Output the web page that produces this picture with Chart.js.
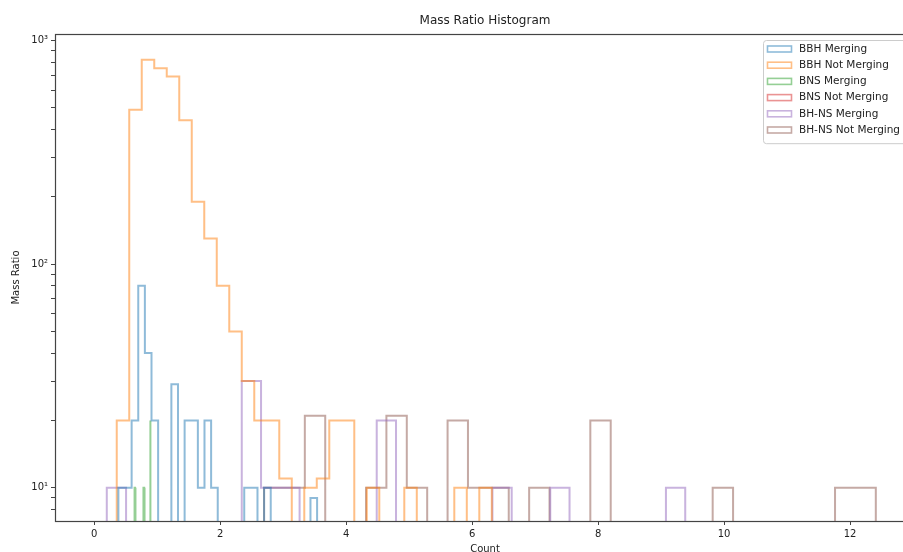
<!DOCTYPE html>
<html>
<head>
<meta charset="utf-8">
<title>Mass Ratio Histogram</title>
<script src="https://cdn.jsdelivr.net/npm/chart.js@4.4.1/dist/chart.umd.min.js"></script>
<style>
  html, body { margin: 0; padding: 0; background: #fff; overflow: hidden; }
  canvas { display: block; }
</style>
</head>
<body>
<canvas id="massRatioChart" width="960" height="552"></canvas>
<script>
// series names, in drawing order
const seriesNames = ['BBH Merging', 'BBH Not Merging', 'BNS Merging', 'BNS Not Merging', 'BH-NS Merging', 'BH-NS Not Merging'];

// each series: [first edge, last edge] of its 30 bins, and the bin counts
const bbhMergingRange = [0.386, 3.54];
const bbhMergingCounts = [10, 10, 20, 80, 40, 20, 0, 0, 29, 0, 20, 20, 10, 20, 10, 0, 0, 0, 0, 10, 10, 0, 10, 0, 0, 0, 0, 0, 0, 9];

const bbhNotMergingRange = [0.36, 6.313];
const bbhNotMergingCounts = [20, 490, 820, 750, 690, 440, 190, 130, 80, 50, 30, 20, 20, 11, 0, 10, 11, 20, 20, 0, 10, 0, 0, 10, 0, 0, 0, 10, 0, 10];

const bnsMergingRange = [0.643, 0.897];
const bnsMergingCounts = [10, 0, 0, 0, 0, 0, 0, 0, 0, 0, 0, 0, 0, 0, 0, 0, 0, 10, 0, 0, 0, 0, 0, 0, 0, 0, 0, 0, 0, 20];

const bnsNotMergingRange = [0, 0];
const bnsNotMergingCounts = [];

const bhnsMergingRange = [0.202, 9.383];
const bhnsMergingCounts = [10, 0, 0, 0, 0, 0, 0, 30, 10, 10, 0, 0, 0, 0, 20, 0, 0, 0, 0, 0, 10, 0, 0, 10, 0, 0, 0, 0, 0, 10];

const bhnsNotMergingRange = [2.698, 12.408];
const bhnsNotMergingCounts = [10, 10, 21, 0, 0, 10, 21, 10, 0, 20, 10, 10, 0, 10, 0, 0, 20, 0, 0, 0, 0, 0, 10, 0, 0, 0, 0, 0, 10, 10];

// tick values
const xTickValues = [0, 2, 4, 6, 8, 10, 12];
const yTickValues = [8, 9, 10, 20, 30, 40, 50, 60, 70, 80, 90, 100, 200, 300, 400, 500, 600, 700, 800, 900, 1000];
const yMajorTicks = [10, 100, 1000];
const yMajorLabels = ['10¹', '10²', '10³'];

const seriesColors = ['rgba(31,119,180,0.5)', 'rgba(255,127,14,0.5)', 'rgba(44,160,44,0.5)',
                      'rgba(214,39,40,0.5)', 'rgba(148,103,189,0.5)', 'rgba(140,86,75,0.5)'];

const FONT = '"DejaVu Sans", sans-serif';
const TEXT = '#222';
const Y_MIN = 7.1, Y_MAX = 1068;
const X_MIN = -0.62, X_MAX = 13.03;
const EMPTY_BIN = 1; // below the axis, clipped away like a log-scale zero

// outline of a step histogram
function stepOutline(range, counts) {
  if (!counts.length) return [];
  const lo = range[0], hi = range[1];
  const w = (hi - lo) / counts.length;
  const pts = [{x: lo, y: EMPTY_BIN}];
  counts.forEach((c, i) => {
    const y = c > 0 ? c : EMPTY_BIN;
    pts.push({x: lo + i * w, y: y}, {x: lo + (i + 1) * w, y: y});
  });
  pts.push({x: hi, y: EMPTY_BIN});
  return pts;
}

const ranges = [bbhMergingRange, bbhNotMergingRange, bnsMergingRange, bnsNotMergingRange, bhnsMergingRange, bhnsNotMergingRange];
const counts = [bbhMergingCounts, bbhNotMergingCounts, bnsMergingCounts, bnsNotMergingCounts, bhnsMergingCounts, bhnsNotMergingCounts];

// spines on top of the lines, like matplotlib
const framePlugin = {
  id: 'frame',
  afterDatasetsDraw(chart) {
    const {ctx, chartArea: a} = chart;
    ctx.save();
    ctx.strokeStyle = '#444';
    ctx.lineWidth = 1.2;
    ctx.strokeRect(a.left + 0.5, a.top + 0.5, a.right - a.left, a.bottom - a.top);
    ctx.restore();
  }
};

// legend box in the upper right of the axes
const boxLegend = {
  id: 'boxLegend',
  afterDraw(chart) {
    const {ctx, chartArea: a} = chart;
    const sets = chart.data.datasets;
    const rowH = 16.2;
    const left = a.right - 152, top = a.top + 6;
    const width = 147, height = sets.length * rowH + 6;
    ctx.save();
    ctx.beginPath();
    if (ctx.roundRect) ctx.roundRect(left + 0.5, top + 0.5, width, height, 3);
    else ctx.rect(left + 0.5, top + 0.5, width, height);
    ctx.fillStyle = 'rgba(255,255,255,0.8)';
    ctx.fill();
    ctx.strokeStyle = '#cccccc';
    ctx.lineWidth = 1;
    ctx.stroke();
    ctx.font = '10.5px ' + FONT;
    ctx.textBaseline = 'middle';
    sets.forEach((ds, i) => {
      const cy = top + 9 + i * rowH;
      ctx.strokeStyle = ds.borderColor;
      ctx.lineWidth = 1.6;
      ctx.strokeRect(left + 4.5, cy - 3, 24, 6);
      ctx.fillStyle = TEXT;
      ctx.fillText(ds.label, left + 36, cy);
    });
    ctx.restore();
  }
};

new Chart(document.getElementById('massRatioChart'), {
  type: 'line',
  data: {
    datasets: seriesNames.map((name, i) => ({
      label: name,
      data: stepOutline(ranges[i], counts[i]),
      borderColor: seriesColors[i],
      borderWidth: 2,
      pointRadius: 0,
      fill: false,
      tension: 0,
      clip: 0
    }))
  },
  options: {
    responsive: false,
    devicePixelRatio: 1,
    animation: false,
    layout: { padding: { left: 0, right: 45, top: 0, bottom: 0 } },
    plugins: {
      legend: { display: false },
      tooltip: { enabled: false },
      title: {
        display: true,
        text: 'Mass Ratio Histogram',
        fullSize: false,
        color: TEXT,
        font: { family: FONT, size: 12, weight: 'normal' },
        padding: { top: 14, bottom: 5.6 }
      }
    },
    scales: {
      x: {
        type: 'linear',
        min: X_MIN,
        max: X_MAX,
        afterBuildTicks: s => { s.ticks = xTickValues.map(v => ({ value: v })); },
        afterFit: s => { s.height = 31; },
        ticks: { autoSkip: false, maxRotation: 0, padding: 3, color: TEXT, font: { family: FONT, size: 10 }, callback: v => String(v) },
        grid: { drawOnChartArea: false, tickLength: 4, color: '#444' },
        border: { display: false },
        title: { display: true, text: 'Count', color: TEXT, font: { family: FONT, size: 10 }, padding: { top: 0, bottom: -3 } }
      },
      y: {
        type: 'logarithmic',
        min: Y_MIN,
        max: Y_MAX,
        afterBuildTicks: s => { s.ticks = yTickValues.map(v => ({ value: v })); },
        afterFit: s => { s.width = 55; },
        ticks: {
          autoSkip: false, padding: 3, color: TEXT, font: { family: FONT, size: 10 },
          callback: v => { const k = yMajorTicks.indexOf(v); return k >= 0 ? yMajorLabels[k] : ''; }
        },
        grid: { drawOnChartArea: false, tickLength: 4, color: '#444' },
        border: { display: false },
        title: { display: true, text: 'Mass Ratio', color: TEXT, font: { family: FONT, size: 10 }, padding: { top: 10, bottom: 0 } }
      }
    }
  },
  plugins: [framePlugin, boxLegend]
});
</script>
</body>
</html>
